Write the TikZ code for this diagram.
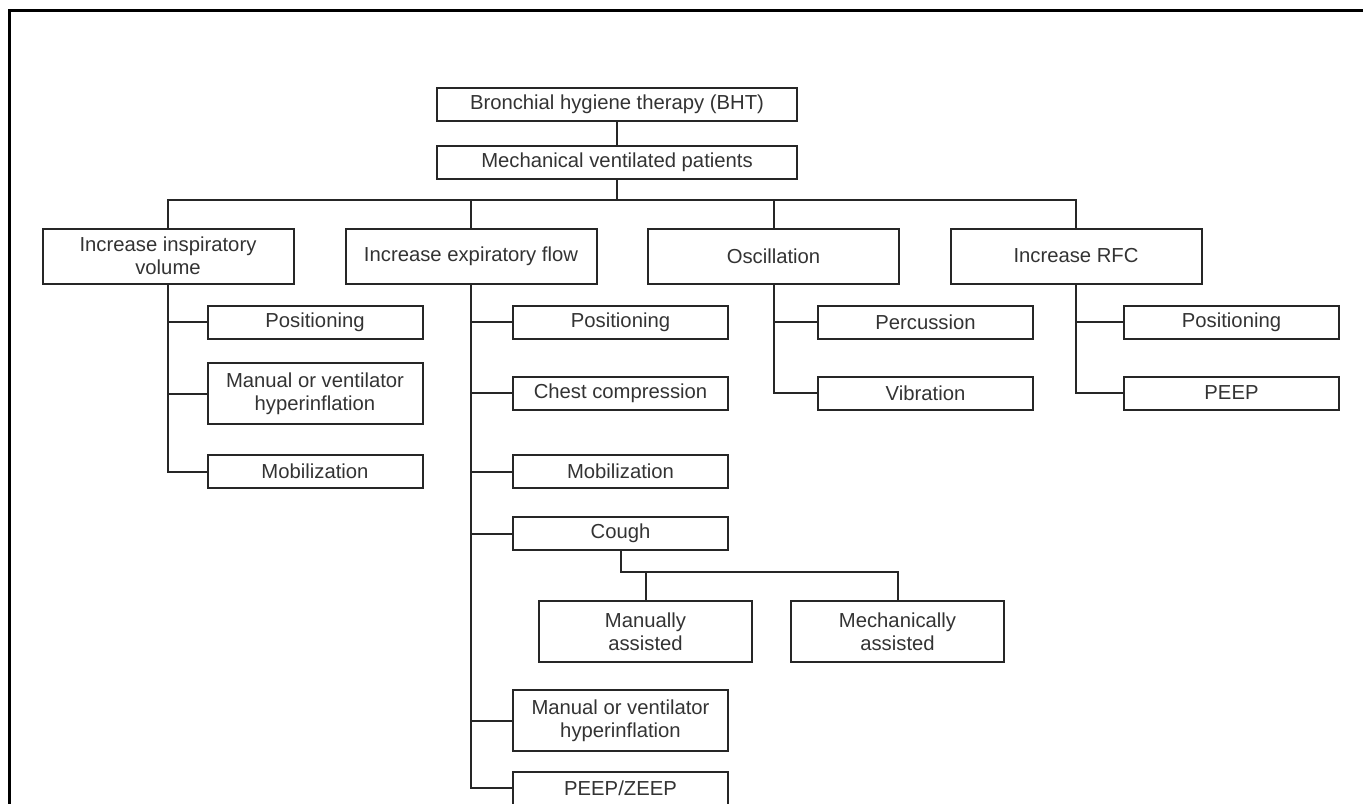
\documentclass[tikz,border=0pt]{standalone}
\usepackage{fontspec}
\setmainfont{Liberation Sans}
\begin{document}
\begin{tikzpicture}[
  x=0.75pt, y=-0.75pt,
  line width=1.5pt,
  draw=black!85,
  box/.style={
    draw=black!85,
    align=center,
    inner sep=0pt,
    text=black!80,
    font=\fontsize{15.2}{17.5}\selectfont
  },
  wide/.style={box, minimum width=270pt, minimum height=24.75pt},
  head/.style={box, minimum width=188.25pt, minimum height=41.25pt},
  item/.style={box, minimum width=161.25pt, minimum height=24.75pt},
  item2/.style={box, minimum width=161.25pt, minimum height=45.75pt}
]
\useasboundingbox (0,0) rectangle (1363,803);
\draw[line width=2.25pt, black] (9.5,815) |- (1375,10.8);

\node[wide] (bht) at (617,104.5) {Bronchial hygiene therapy (BHT)};
\node[wide] (mvp) at (617,162.5) {Mechanical ventilated patients};
\coordinate (bus) at (617,200);

\node[head] (iiv) at (168,256) {Increase inspiratory\\volume};
\node[head] (ief) at (471,256) {Increase expiratory flow};
\node[head] (osc) at (773.5,256) {Oscillation};
\node[head] (rfc) at (1076,256) {Increase RFC};

\node[item] (iivpos) at (315,322) {Positioning};
\node[item2] (iivhyp) at (315,393.5) {Manual or ventilator\\hyperinflation};
\node[item] (iivmob) at (315,471.5) {Mobilization};

\node[item] (iefpos) at (620.5,322) {Positioning};
\node[item] (iefchest) at (620.5,393) {Chest compression};
\node[item] (iefmob) at (620.5,471.5) {Mobilization};
\node[item] (cough) at (620.5,533.5) {Cough};
\node[box, minimum width=159.75pt, minimum height=45.75pt] (manu) at (645.5,631.5) {Manually\\assisted};
\node[box, minimum width=159.75pt, minimum height=45.75pt] (mech) at (897.5,631.5) {Mechanically\\assisted};
\node[item2] (iefhyp) at (620.5,720.5) {Manual or ventilator\\hyperinflation};
\node[item] (peepz) at (620.5,788) {PEEP/ZEEP};

\node[item] (perc) at (925.5,322) {Percussion};
\node[item] (vib) at (925.5,393) {Vibration};

\node[item] (rfcpos) at (1231.5,322) {Positioning};
\node[item] (peep) at (1231.5,393) {PEEP};

\draw (bht) -- (mvp);
\draw (mvp) -- (bus);
\foreach \n in {iiv,ief,osc,rfc}
  \draw (\n.north) |- (bus);
\foreach \n in {iivpos,iivhyp,iivmob}
  \draw (iiv.south) |- (\n.west);
\foreach \n in {iefpos,iefchest,iefmob,cough,iefhyp,peepz}
  \draw (ief.south) |- (\n.west);
\foreach \n in {perc,vib}
  \draw (osc.south) |- (\n.west);
\foreach \n in {rfcpos,peep}
  \draw (rfc.south) |- (\n.west);
\coordinate (cj) at (620.5,572);
\draw (cough.south) -- (cj) -| (manu.north);
\draw (cj) -| (mech.north);
\end{tikzpicture}
\end{document}
